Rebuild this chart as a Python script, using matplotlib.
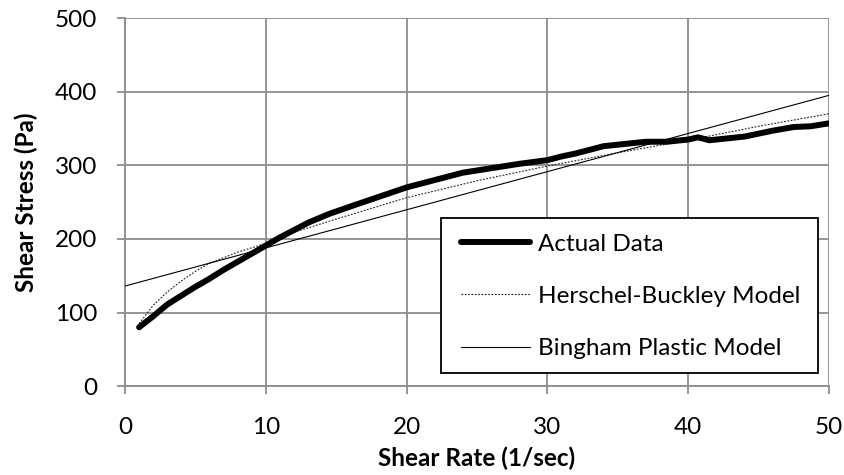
import matplotlib
matplotlib.use("Agg")
import matplotlib.pyplot as plt
from matplotlib.patches import Rectangle

plt.rcParams['font.family'] = ['Lato', 'DejaVu Sans']

# Measured rheology data
shear_rate = [1, 2, 3, 4, 5, 6, 7, 8, 9, 10, 11, 12, 13, 14, 14.5, 16, 18, 20,
              22, 24, 26, 28, 30, 31, 32, 33, 34, 35, 36, 37, 38.5, 40, 40.7,
              41.5, 43, 44, 45, 46, 47.5, 48.7, 50]
shear_stress = [80, 95, 111, 123, 135, 146, 158, 169, 180, 191, 202, 212, 222,
                230, 234, 244, 257, 270, 280, 290, 296, 302, 307, 312, 316,
                321, 326, 328, 330, 332, 332, 335, 338, 334, 337, 339, 343,
                347, 352, 353, 357]

# Herschel-Buckley model curve
hb_rate = [1, 2, 3, 4, 5, 6, 8, 10, 12, 15, 20, 25, 30, 35, 40, 45, 50]
hb_stress = [85, 110, 128, 143, 156, 167, 182, 194, 209, 227, 256, 279, 299,
             317, 334, 353, 370]

# Bingham plastic model line
bp_rate = [0, 50]
bp_stress = [136, 395]

FS = 17.5
fig = plt.figure(figsize=(8.45, 4.75), dpi=100)
ax = fig.add_axes([0.148, 0.187, 0.833, 0.775])

grid_c = '#8c8c8c'
ax.plot(shear_rate, shear_stress, color='black', lw=4.3,
        solid_capstyle='round', solid_joinstyle='round', label='Actual Data', zorder=4)
ax.plot(hb_rate, hb_stress, color='#222222', lw=0.8, ls=(0, (1.6, 1.4)),
        label='Herschel-Buckley Model', zorder=3)
ax.plot(bp_rate, bp_stress, color='black', lw=0.8,
        label='Bingham Plastic Model', zorder=3)

ax.set_xlim(0, 50)
ax.set_ylim(0, 500)
ax.set_xticks(range(0, 51, 10))
ax.set_yticks(range(0, 501, 100))
ax.grid(True, color=grid_c, lw=1.3)
ax.set_axisbelow(True)
for s in ('top', 'right'):
    ax.spines[s].set_visible(False)
for s in ('left', 'bottom'):
    ax.spines[s].set_color(grid_c)
    ax.spines[s].set_linewidth(1.3)
ax.tick_params(direction='out', length=6, width=1.3, color=grid_c,
               labelsize=FS, labelcolor='black')
ax.tick_params(axis='x', pad=16.5)
ax.tick_params(axis='y', pad=14)

ax.set_xlabel('Shear Rate (1/sec)', fontsize=FS, fontweight='bold', labelpad=6)
ax.set_ylabel('Shear Stress (Pa)', fontsize=FS, fontweight='bold', labelpad=12)

# Legend frame
ax.add_patch(Rectangle((0.449, 0.035), 0.535, 0.422, transform=ax.transAxes,
                       facecolor='white', edgecolor='black', lw=1.3, zorder=9))
leg = ax.legend(loc='upper left', bbox_to_anchor=(0.477, 0.414),
                fontsize=FS, frameon=False,
                handlelength=2.85, handletextpad=0.33, labelspacing=1.28,
                borderpad=0, borderaxespad=0)
leg.set_zorder(10)

fig.savefig('out.png', dpi=100)
